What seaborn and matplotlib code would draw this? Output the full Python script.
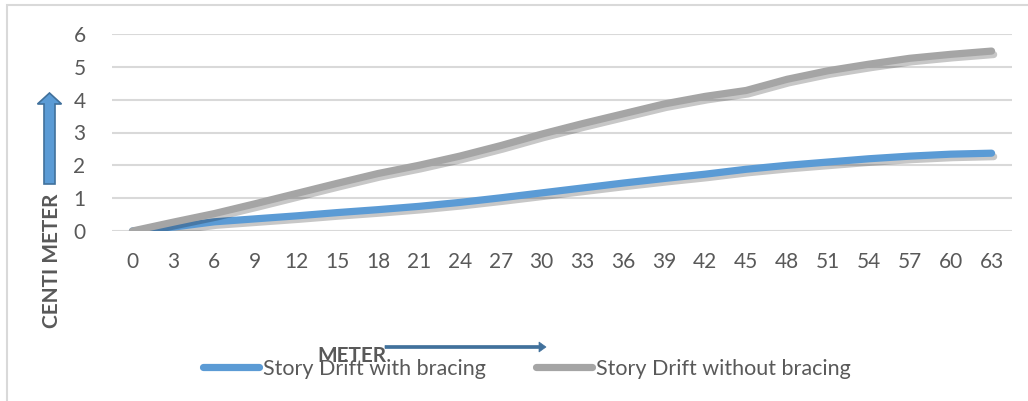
import matplotlib
matplotlib.use("Agg")
import matplotlib.pyplot as plt
import matplotlib.patheffects as pe
from matplotlib.patches import FancyArrow, Rectangle
from matplotlib.lines import Line2D
import seaborn as sns
import pandas as pd

heights = [0, 3, 6, 9, 12, 15, 18, 21, 24, 27, 30, 33, 36, 39, 42, 45, 48, 51, 54, 57, 60, 63]
with_bracing = [0, 0.12, 0.28, 0.37, 0.46, 0.56, 0.65, 0.75, 0.87, 1.01, 1.16, 1.31,
                1.46, 1.60, 1.73, 1.88, 2.00, 2.10, 2.20, 2.28, 2.34, 2.37]
without_bracing = [0, 0.27, 0.53, 0.83, 1.14, 1.45, 1.75, 2.00, 2.28, 2.60, 2.95, 3.27,
                   3.57, 3.87, 4.10, 4.28, 4.62, 4.88, 5.08, 5.26, 5.38, 5.48]
series_names = ["Story Drift with bracing", "Story Drift without bracing"]
colors = ["#5b9bd5", "#a5a5a5"]
yticks = [0, 1, 2, 3, 4, 5, 6]

df = pd.DataFrame({
    "x": heights * 2,
    "y": with_bracing + without_bracing,
    "series": [series_names[0]] * len(heights) + [series_names[1]] * len(heights),
})

sns.set_theme(style="white")
plt.rcParams["font.family"] = ["Lato", "DejaVu Sans"]
txt = "#595959"

fig = plt.figure(figsize=(10.28, 4.01), dpi=100)
ax = fig.add_axes([112 / 1028, 170 / 401, 900 / 1028, 197 / 401])

sns.lineplot(data=df, x="x", y="y", hue="series", palette=colors, ax=ax,
             linewidth=5.2, legend=False, sort=False)
for ln in ax.get_lines():
    ln.set_solid_capstyle("round")
    ln.set_path_effects([pe.SimpleLineShadow(offset=(1.5, -2.5), shadow_color="black", alpha=0.22),
                         pe.Normal()])
    ln.set_zorder(3)

ax.set_xlim(-1.5, 64.5)
ax.set_ylim(0, 6)
ax.set_xticks(heights)
ax.set_xticklabels([str(h) for h in heights])
ax.set_yticks(yticks)
ax.set_yticklabels([str(t) for t in yticks])
ax.grid(axis="y", color="#d9d9d9", linewidth=1.5)
ax.grid(axis="x", visible=False)
ax.set_axisbelow(True)
for s in ax.spines.values():
    s.set_visible(False)
ax.tick_params(axis="both", length=0, labelsize=15, labelcolor=txt)
ax.tick_params(axis="y", pad=19)
ax.tick_params(axis="x", pad=15)
ax.set_xlabel("")
ax.set_ylabel("")

# outer chart border
fig.patches.append(Rectangle((7 / 1028, -0.1), 1.2, (401 - 5) / 401 + 0.1,
                             transform=fig.transFigure, fill=False,
                             edgecolor="#d9d9d9", linewidth=1.5))

# y-axis label and arrow
fig.text(52 / 1028, 1 - 261 / 401, "CENTI METER", rotation=90, ha="center", va="center",
         fontsize=15, fontweight="bold", color=txt)
fig.patches.append(FancyArrow(49.5 / 1028, 1 - 184 / 401, 0, (184 - 93) / 401,
                              width=11 / 1028, head_width=24 / 1028, head_length=11 / 401,
                              length_includes_head=True, transform=fig.transFigure,
                              facecolor="#5b9bd5", edgecolor="#41719c", linewidth=1.2))

# x-axis label and arrow
fig.text(352 / 1028, 1 - 356 / 401, "METER", ha="center", va="center",
         fontsize=15, fontweight="bold", color=txt, zorder=5)
fig.patches.append(FancyArrow(385 / 1028, 1 - 347 / 401, (546 - 385) / 1028, 0,
                              width=3 / 401, head_width=10 / 401, head_length=7 / 1028,
                              length_includes_head=True, transform=fig.transFigure,
                              facecolor="#41719c", edgecolor="#41719c", linewidth=0.5))

# legend
handles = [Line2D([0], [0], color=c, linewidth=5.2, solid_capstyle="round") for c in colors]
leg = fig.legend(handles, series_names, loc="center", bbox_to_anchor=(527 / 1028, 1 - 369 / 401),
                 ncol=2, frameon=False, fontsize=15.5, handlelength=2.6, handletextpad=0.2,
                 columnspacing=2.3, labelcolor=txt)

fig.savefig("out.png", dpi=100)
